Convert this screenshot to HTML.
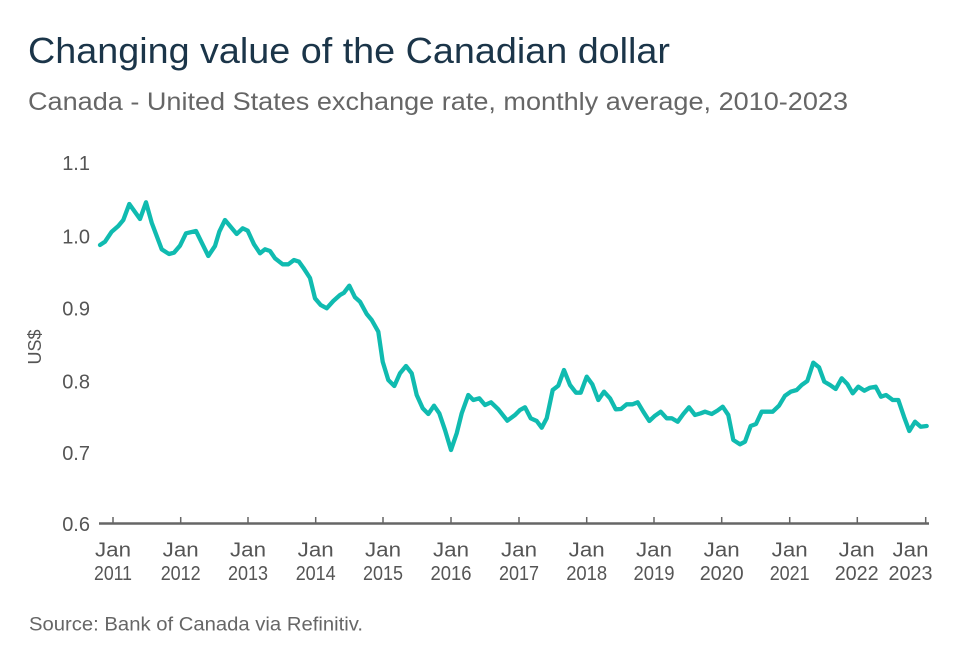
<!DOCTYPE html>
<html>
<head>
<meta charset="utf-8">
<style>
html,body{margin:0;padding:0;background:#fff;}
svg{display:block;}
text{font-family:"Liberation Sans",Arial,sans-serif;}
</style>
</head>
<body>
<svg width="960" height="670" viewBox="0 0 960 670" xmlns="http://www.w3.org/2000/svg">
<rect width="960" height="670" fill="#fff"/>
<text x="28" y="63" font-size="36" fill="#1b3549" textLength="642" lengthAdjust="spacingAndGlyphs">Changing value of the Canadian dollar</text>
<text x="28" y="110" font-size="25" fill="#666" textLength="820" lengthAdjust="spacingAndGlyphs">Canada - United States exchange rate, monthly average, 2010-2023</text>

<g font-size="20" fill="#555" text-anchor="end">
<text x="90" y="170">1.1</text>
<text x="90" y="243.5">1.0</text>
<text x="90" y="315.5">0.9</text>
<text x="90" y="388.5">0.8</text>
<text x="90" y="460">0.7</text>
<text x="90" y="531">0.6</text>
</g>
<text transform="translate(41,347) rotate(-90)" font-size="18" fill="#555" text-anchor="middle">US$</text>

<line x1="99" y1="523.5" x2="929" y2="523.5" stroke="#666" stroke-width="2.5"/>
<g stroke="#666" stroke-width="1.5">
<line x1="113" y1="517" x2="113" y2="523"/>
<line x1="180.7" y1="517" x2="180.7" y2="523"/>
<line x1="248" y1="517" x2="248" y2="523"/>
<line x1="315.7" y1="517" x2="315.7" y2="523"/>
<line x1="383" y1="517" x2="383" y2="523"/>
<line x1="451" y1="517" x2="451" y2="523"/>
<line x1="519" y1="517" x2="519" y2="523"/>
<line x1="586.7" y1="517" x2="586.7" y2="523"/>
<line x1="654" y1="517" x2="654" y2="523"/>
<line x1="721.7" y1="517" x2="721.7" y2="523"/>
<line x1="789.7" y1="517" x2="789.7" y2="523"/>
<line x1="857.3" y1="517" x2="857.3" y2="523"/>
<line x1="925.7" y1="517" x2="925.7" y2="523"/>
</g>
<g font-size="20" fill="#555" text-anchor="middle">
<text x="113" y="556.5" textLength="36" lengthAdjust="spacingAndGlyphs">Jan</text><text x="113" y="580" textLength="38" lengthAdjust="spacingAndGlyphs">2011</text>
<text x="180.7" y="556.5" textLength="36" lengthAdjust="spacingAndGlyphs">Jan</text><text x="180.7" y="580" textLength="40" lengthAdjust="spacingAndGlyphs">2012</text>
<text x="248" y="556.5" textLength="36" lengthAdjust="spacingAndGlyphs">Jan</text><text x="248" y="580" textLength="40" lengthAdjust="spacingAndGlyphs">2013</text>
<text x="315.7" y="556.5" textLength="36" lengthAdjust="spacingAndGlyphs">Jan</text><text x="315.7" y="580" textLength="40" lengthAdjust="spacingAndGlyphs">2014</text>
<text x="383" y="556.5" textLength="36" lengthAdjust="spacingAndGlyphs">Jan</text><text x="383" y="580" textLength="40" lengthAdjust="spacingAndGlyphs">2015</text>
<text x="451" y="556.5" textLength="36" lengthAdjust="spacingAndGlyphs">Jan</text><text x="451" y="580" textLength="41" lengthAdjust="spacingAndGlyphs">2016</text>
<text x="519" y="556.5" textLength="36" lengthAdjust="spacingAndGlyphs">Jan</text><text x="519" y="580" textLength="40" lengthAdjust="spacingAndGlyphs">2017</text>
<text x="586.7" y="556.5" textLength="36" lengthAdjust="spacingAndGlyphs">Jan</text><text x="586.7" y="580" textLength="41" lengthAdjust="spacingAndGlyphs">2018</text>
<text x="654" y="556.5" textLength="36" lengthAdjust="spacingAndGlyphs">Jan</text><text x="654" y="580" textLength="41" lengthAdjust="spacingAndGlyphs">2019</text>
<text x="721.7" y="556.5" textLength="36" lengthAdjust="spacingAndGlyphs">Jan</text><text x="721.7" y="580" textLength="44" lengthAdjust="spacingAndGlyphs">2020</text>
<text x="789.7" y="556.5" textLength="36" lengthAdjust="spacingAndGlyphs">Jan</text><text x="789.7" y="580" textLength="40" lengthAdjust="spacingAndGlyphs">2021</text>
<text x="856.7" y="556.5" textLength="36" lengthAdjust="spacingAndGlyphs">Jan</text><text x="856.7" y="580" textLength="44" lengthAdjust="spacingAndGlyphs">2022</text>
<text x="910.5" y="556.5" textLength="36" lengthAdjust="spacingAndGlyphs">Jan</text><text x="910.5" y="580" textLength="44" lengthAdjust="spacingAndGlyphs">2023</text>
</g>

<polyline fill="none" stroke="#10bbb0" stroke-width="4.3" stroke-linejoin="round" stroke-linecap="round" points="
100,245 105,241.7 111.7,231.7 118.3,226 123.3,220 129.3,204 140,219 146,202.3 151.7,222.7 161.7,249.3 169,254 174,252.7 180,245.7 186,233.3 196,231 208.3,256 215,246 219.3,231.7 225,220 236.7,234 242.7,228.3 247.7,230.7 254,244.3 260,253.3 265,249.3 270,251 275,258.3 282.7,264.3 288.3,264.3 294,260 299,261.7
303.3,267.7 310,278 315,298.3 320.7,305 326.7,308.3 333.3,301 340,295 344,292.7 349.3,285.7 355,297.3 360,301.7 366.7,314 371.7,320 378.3,331.7 382.7,361.7 388.3,380 394.3,386 400,373.3 406,366 411.7,373.3 416.7,395 422.7,408.3 428.3,414 434,405.7 439.3,413.3 445,430 451,450 456.7,433.3 461.7,413.3 468.3,395 473.3,400 479.3,398.3 485,405 491,402.3
498.3,409.3 507.3,420.7 515,415 520,410 525,407.3 530.7,418.3 536.7,421 541.7,427.7 546.7,418.3 552.7,390 558.3,385.7 564,370 570,385 576,392.7 580.7,392.7 586.7,376.7 592.3,384.3 598.3,400 604,391.7 610,398.3 615.7,409.3 621,409 626.7,404.3 632.7,404.3 637.7,402.3 643.3,411.7 649.3,421 655,415.7 660.7,411.7 666.7,418.3 671.7,418.3 677.7,421.7 683.3,414 689,407.3 695,415 700.7,413.3
705,411.7 711.7,414 717.3,410.7 722.7,406.7 728.3,415 733.3,440 740,444.3 745,441.7 750.7,426 756,424 761.7,411.7 766.7,411.7 772.7,411.7 779,405.7 785,395.7 790.7,391.7 796.7,390 801.7,385 807.3,381 813.3,362.7 819,367.3 824.3,381.7 830,385 835.7,389 841.7,378.3 847.3,384 852.7,393.3 858.3,386.7 864.3,390.7 870,387.7 875.7,386.7 881,396.7 886,395 892.7,400 898.3,400 904,416.7 909.3,431 915,421.7 920.7,426.7 926.7,426"/>

<text x="29" y="630.5" font-size="19" fill="#666" textLength="334" lengthAdjust="spacingAndGlyphs">Source: Bank of Canada via Refinitiv.</text>
</svg>
</body>
</html>
